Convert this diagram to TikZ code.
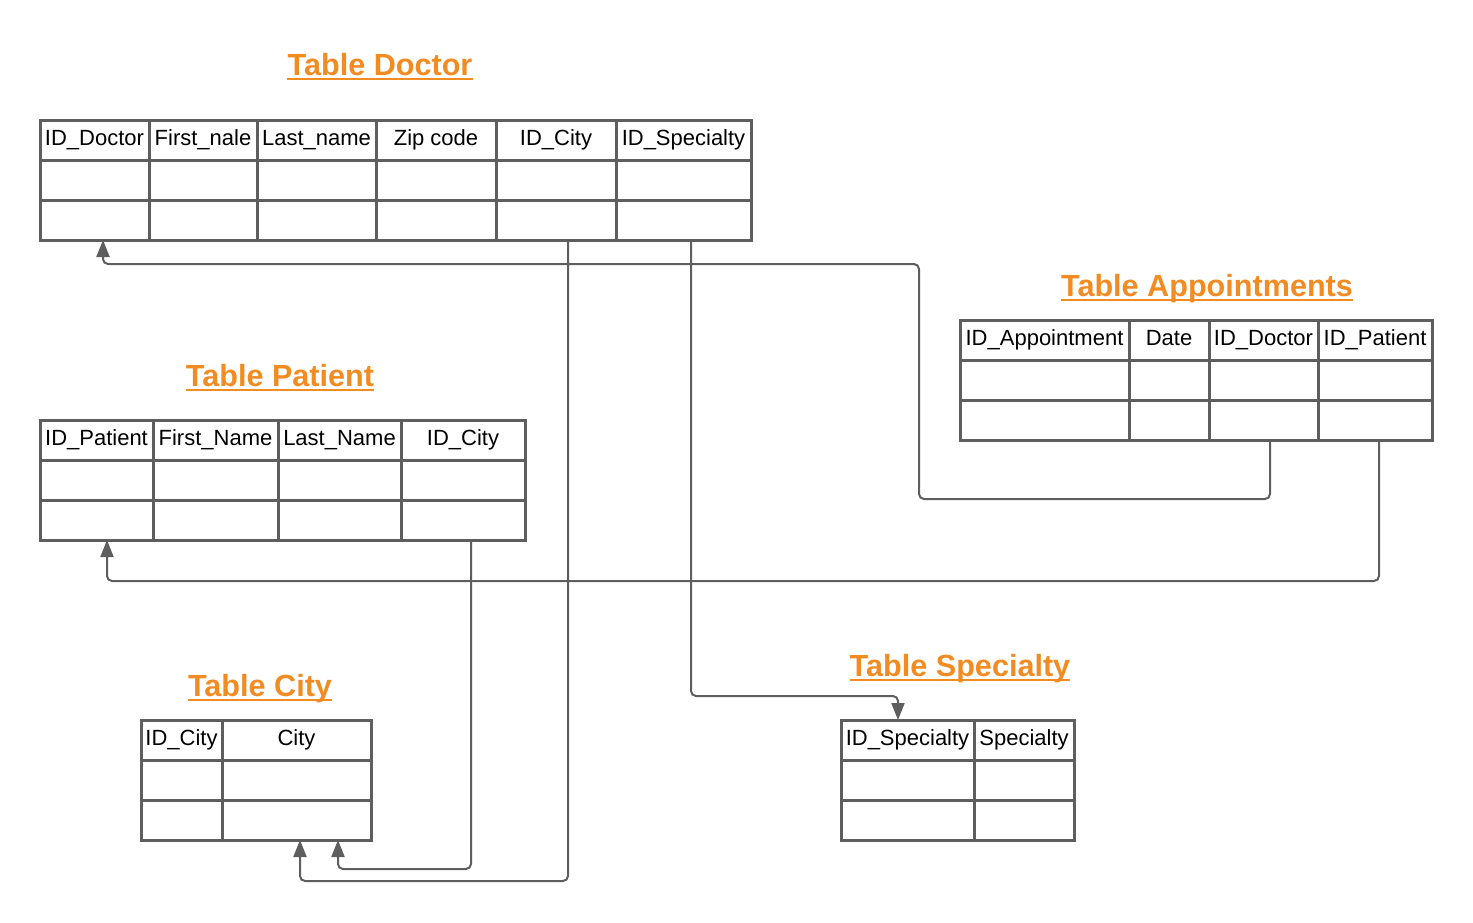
\documentclass[tikz,border=0pt]{standalone}
\usepackage{fontspec}
\setmainfont{Liberation Sans}
\usetikzlibrary{arrows.meta, positioning}

\definecolor{linegray}{RGB}{94,94,94}
\definecolor{titleorange}{RGB}{242,140,34}

\begin{document}
\begin{tikzpicture}[
		x=1pt, y=-1pt, % pixel-like grid, y pointing down
		cell/.style={draw=linegray, line width=3pt, minimum height=40pt, inner sep=0pt, outer sep=0pt,
			font=\fontsize{22}{26}\selectfont, text height=15pt, text depth=5pt},
		hcell/.style={cell, anchor=north west},
		title/.style={inner sep=0pt, anchor=base, text=titleorange, font=\fontsize{30.6}{34}\selectfont\bfseries},
		uline/.style={titleorange, line width=2.8pt},
		link/.style={linegray, line width=2pt, rounded corners=5pt, -{Triangle[length=17pt, width=13pt]}}
		]
		
		\useasboundingbox (0,0) rectangle (1473,922);
		
		% --- 1. Titles ---
		\node[title] (t-doc) at (380,75) {Table Doctor};
		\node[title] (t-app) at (1207,296) {Table Appointments};
		\node[title] (t-pat) at (280,386) {Table Patient};
		\node[title] (t-city) at (260,696) {Table City};
		\node[title] (t-spec) at (960,676) {Table Specialty};
		\foreach \t in {t-doc, t-app, t-pat, t-city, t-spec} {
			\draw[uline] ([yshift=-4pt]\t.base west) -- ([yshift=-4pt]\t.base east);
		}
		
		% --- 2. Tables (header row + two empty rows) ---
		% Table Doctor
		\foreach \x/\w/\lbl [count=\i] in {40/109/ID\_Doctor, 149/108/First\_nale, 257/119/Last\_name,
			376/120/Zip code, 496/120/ID\_City, 616/135/ID\_Specialty} {
			\node[hcell, minimum width=\w] (doc-\i) at (\x,120) {\lbl};
			\node[cell, minimum width=\w, below=0pt of doc-\i] (doc-\i-a) {};
			\node[cell, minimum width=\w, below=0pt of doc-\i-a] (doc-\i-b) {};
		}
		
		% Table Appointments
		\foreach \x/\w/\lbl [count=\i] in {960/169/ID\_Appointment, 1129/80/Date,
			1209/109/ID\_Doctor, 1318/114/ID\_Patient} {
			\node[hcell, minimum width=\w] (app-\i) at (\x,320) {\lbl};
			\node[cell, minimum width=\w, below=0pt of app-\i] (app-\i-a) {};
			\node[cell, minimum width=\w, below=0pt of app-\i-a] (app-\i-b) {};
		}
		
		% Table Patient
		\foreach \x/\w/\lbl [count=\i] in {40/113/ID\_Patient, 153/125/First\_Name,
			278/123/Last\_Name, 401/124/ID\_City} {
			\node[hcell, minimum width=\w] (pat-\i) at (\x,420) {\lbl};
			\node[cell, minimum width=\w, below=0pt of pat-\i] (pat-\i-a) {};
			\node[cell, minimum width=\w, below=0pt of pat-\i-a] (pat-\i-b) {};
		}
		
		% Table City
		\foreach \x/\w/\lbl [count=\i] in {141/81/ID\_City, 222/149/City} {
			\node[hcell, minimum width=\w] (city-\i) at (\x,720) {\lbl};
			\node[cell, minimum width=\w, below=0pt of city-\i] (city-\i-a) {};
			\node[cell, minimum width=\w, below=0pt of city-\i-a] (city-\i-b) {};
		}
		
		% Table Specialty
		\foreach \x/\w/\lbl [count=\i] in {841/133/ID\_Specialty, 974/100/Specialty} {
			\node[hcell, minimum width=\w] (spec-\i) at (\x,720) {\lbl};
			\node[cell, minimum width=\w, below=0pt of spec-\i] (spec-\i-a) {};
			\node[cell, minimum width=\w, below=0pt of spec-\i-a] (spec-\i-b) {};
		}
		
		% --- 3. Foreign keys ---
		% Appointments.ID_Doctor -> Doctor.ID_Doctor
		\draw[link] ([xshift=6.5pt]app-3-b.south) -- ++(0,59) -- ++(-351,0) -- ++(0,-235)
			-| ([xshift=8.5pt]doc-1-b.south);
		
		% Appointments.ID_Patient -> Patient.ID_Patient
		\draw[link] ([xshift=4pt]app-4-b.south) -- ++(0,141) -| ([xshift=10.5pt]pat-1-b.south);
		
		% Doctor.ID_City -> City
		\draw[link] ([xshift=12pt]doc-5-b.south) -- ++(0,641) -| ([xshift=3.5pt]city-2-b.south);
		
		% Patient.ID_City -> City
		\draw[link] ([xshift=8pt]pat-4-b.south) -- ++(0,329) -| ([xshift=41.5pt]city-2-b.south);
		
		% Doctor.ID_Specialty -> Specialty
		\draw[link] ([xshift=7.5pt]doc-6-b.south) -- ++(0,456) -| ([xshift=-9.5pt]spec-1.north);
		
	\end{tikzpicture}
\end{document}
